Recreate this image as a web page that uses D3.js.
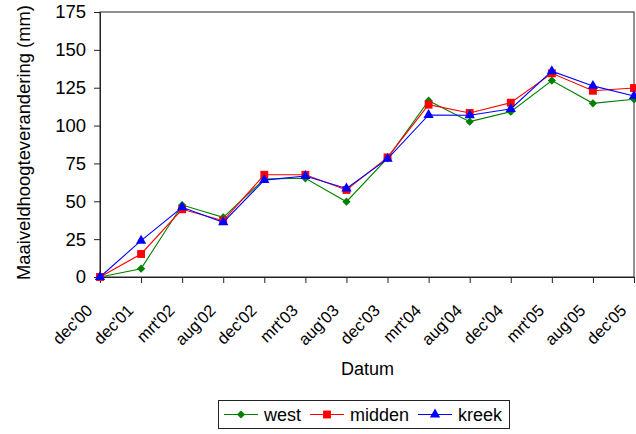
<!DOCTYPE html>
<html><head><meta charset="utf-8">
<script src="https://cdn.jsdelivr.net/npm/d3@7"></script>
<style>body{margin:0;background:#fff;}svg{display:block;font-family:"Liberation Sans",Arial,sans-serif;}</style>
</head><body><svg id="c" width="636" height="434"></svg>
<script>
const categories = ["dec'00","dec'01","mrt'02","aug'02","dec'02","mrt'03","aug'03","dec'03","mrt'04","aug'04","dec'04","mrt'05","aug'05","dec'05"];
const west   = [0, 5.5, 47.5, 39.4, 64.7, 65.2, 49.7, 78.5, 116.4, 102.6, 109.2, 129.7, 114.7, 117.4];
const midden = [0, 15.2, 44.7, 37.2, 67.5, 67.5, 57.5, 79, 113.8, 108.3, 115.1, 134.5, 123, 124.8];
const kreek  = [0, 24, 46, 36.1, 64, 66.7, 58.5, 78, 107, 106.8, 111, 135.9, 126.2, 119.5];
const yTicks = [0, 25, 50, 75, 100, 125, 150, 175];
const seriesNames = ["west", "midden", "kreek"];
const seriesColors = ["#008000", "#ff0000", "#0000ff"];

const FONT = "Liberation Sans, Arial, sans-serif";
const svg = d3.select("#c");
const L = 100, R = 634, T = 12, B = 277;
const x = d3.scalePoint().domain(categories).range([L, R]).padding(0);
const y = d3.scaleLinear().domain([0, 175]).range([B, T]);

function marker(si) {
  if (si === 0) return { d: d3.symbol().type(d3.symbolSquare).size(34)(), rot: 45 };
  if (si === 1) return { d: d3.symbol().type(d3.symbolSquare).size(62)(), rot: 0 };
  return { d: d3.symbol().type(d3.symbolTriangle).size(46)(), rot: 0 };
}

svg.append("rect").attr("x", L).attr("y", T).attr("width", R - L).attr("height", B - T)
  .attr("fill", "none").attr("stroke", "#222").attr("stroke-width", 1);

const yAxis = svg.append("g").attr("transform", `translate(${L},0)`)
  .call(d3.axisLeft(y).tickValues(yTicks).tickSize(6).tickPadding(8));
yAxis.select(".domain").attr("stroke", "#222");
yAxis.selectAll(".tick line").attr("stroke", "#222");
yAxis.selectAll("text").attr("font-size", 18.5).attr("fill", "#000").attr("font-family", FONT);

const xAxis = svg.append("g").attr("transform", `translate(0,${B})`)
  .call(d3.axisBottom(x).tickSize(6));
xAxis.select(".domain").attr("stroke", "#222");
xAxis.selectAll(".tick line").attr("stroke", "#222");
xAxis.selectAll("text").attr("font-size", 16.5).attr("fill", "#000")
  .attr("font-family", FONT)
  .attr("text-anchor", "end").attr("x", 0).attr("y", 0).attr("dy", 0)
  .attr("transform", "translate(-7,34.5) rotate(-45)");

svg.append("text").attr("x", 367.5).attr("y", 375).attr("text-anchor", "middle")
  .attr("font-size", 18).text("Datum");
svg.append("text").attr("transform", "translate(30,142.5) rotate(-90)").attr("text-anchor", "middle")
  .attr("font-size", 18.4).text("Maaiveldhoogteverandering (mm)");

const data = [west, midden, kreek];
const line = d3.line().x((d, i) => x(categories[i])).y(d => y(d));
data.forEach((vals, si) => {
  const g = svg.append("g");
  g.append("path").datum(vals).attr("d", line).attr("fill", "none")
    .attr("stroke", seriesColors[si]).attr("stroke-width", 1.1);
  const m = marker(si);
  g.selectAll("path.m").data(vals).join("path").attr("class", "m")
    .attr("d", m.d)
    .attr("transform", (d, i) => `translate(${x(categories[i])},${y(d)}) rotate(${m.rot})`)
    .attr("fill", seriesColors[si]);
});

const lg = svg.append("g");
lg.append("rect").attr("x", 218.5).attr("y", 400.5).attr("width", 291).attr("height", 28)
  .attr("fill", "#fff").attr("stroke", "#222");
const lx = [224, 310, 418];
seriesNames.forEach((n, i) => {
  lg.append("line").attr("x1", lx[i]).attr("x2", lx[i] + 34).attr("y1", 414.5).attr("y2", 414.5)
    .attr("stroke", seriesColors[i]).attr("stroke-width", 1.1);
  const m = marker(i);
  lg.append("path").attr("d", m.d)
    .attr("transform", `translate(${lx[i] + 17},414.5) rotate(${m.rot})`).attr("fill", seriesColors[i]);
  lg.append("text").attr("x", lx[i] + 40).attr("y", 421).attr("font-size", 18).text(n);
});
</script></body></html>
